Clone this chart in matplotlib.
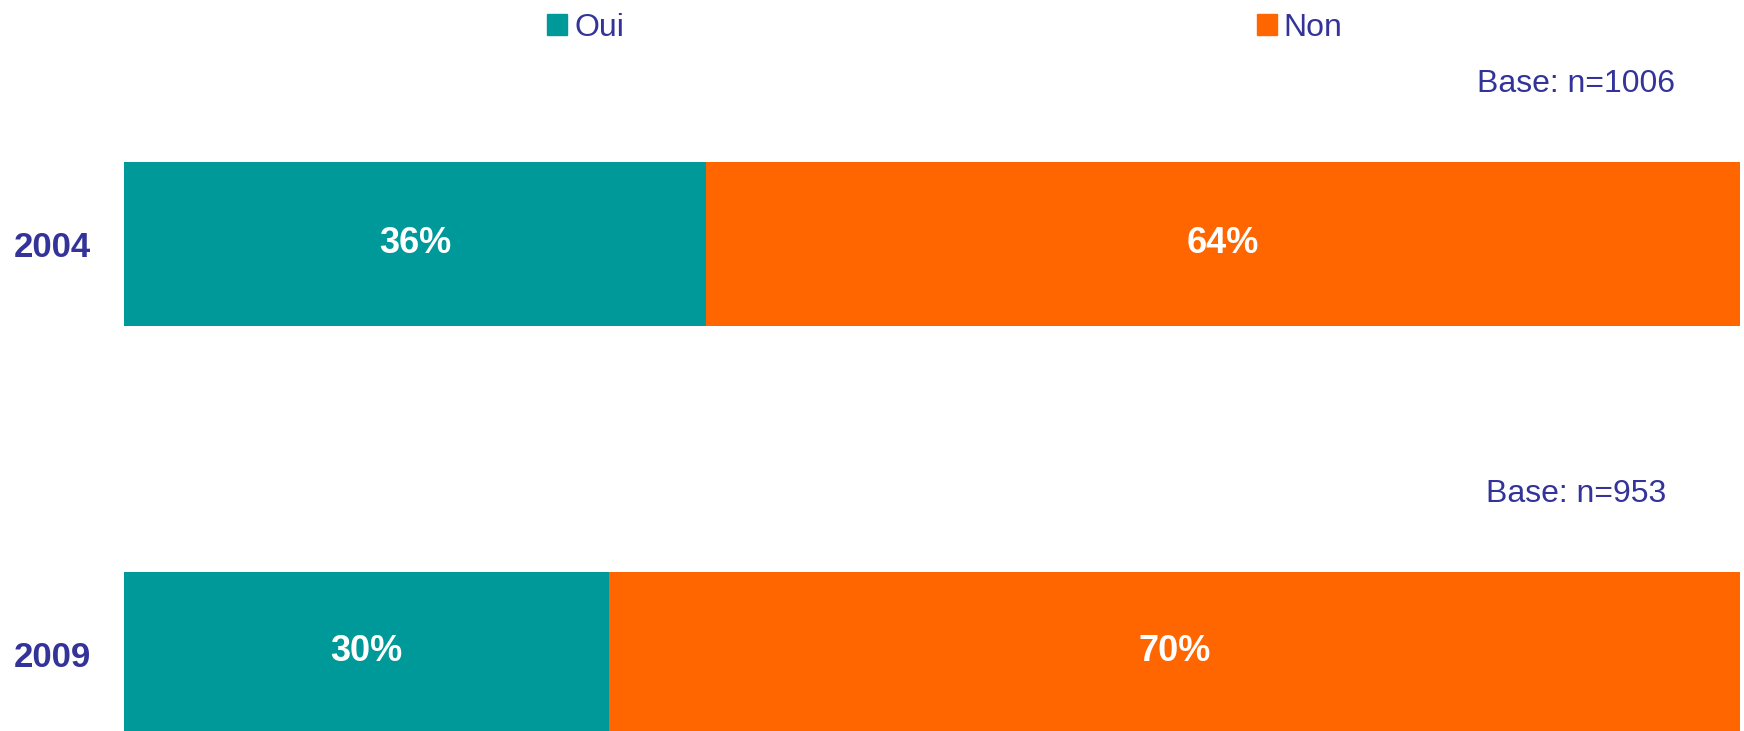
import matplotlib
matplotlib.use('Agg')
import matplotlib.pyplot as plt
from matplotlib.patches import Patch

plt.rcParams['font.family'] = ['Liberation Sans', 'DejaVu Sans']

# данные
annees = ['2004', '2009']
oui = [36, 30]
non = [64, 70]
bases = ['Base: n=1006', 'Base: n=953']

teal = '#009999'
orange = '#FF6600'
navy = '#333399'

fig = plt.figure(figsize=(17.44, 7.31), dpi=100)
ax = fig.add_axes([124 / 1744, 0, 1616 / 1744, 1])

pos = list(range(len(annees)))
b1 = ax.barh(pos, oui, height=0.4, color=teal)
b2 = ax.barh(pos, non, left=oui, height=0.4, color=orange)

# подписи процентов
ax.bar_label(b1, labels=[f'{v}%' for v in oui], label_type='center',
             color='white', fontsize=26, fontweight='bold')
ax.bar_label(b2, labels=[f'{v}%' for v in non], label_type='center',
             color='white', fontsize=26, fontweight='bold')

# базы
for p, txt in zip(pos, bases):
    ax.text(89.85, p - 0.39, txt, ha='center', va='center', color=navy, fontsize=23)

ax.set_xlim(0, 100)
ax.set_ylim(1.188, -0.595)
ax.set_yticks(pos)
ax.set_yticklabels(annees, fontsize=25, fontweight='bold', color=navy)
ax.tick_params(axis='y', length=0, pad=24)
ax.set_xticks([])
for s in ax.spines.values():
    s.set_visible(False)

# легенда
handles = [Patch(color=teal, label='Oui'), Patch(color=orange, label='Non')]
fig.legend(handles=handles, loc='upper left', bbox_to_anchor=(547 / 1744, 1 - 13 / 731),
           ncol=2, frameon=False, fontsize=23, labelcolor=navy,
           handlelength=0.63, handleheight=0.63, handletextpad=0.22,
           columnspacing=19.8, borderpad=0, borderaxespad=0)

fig.savefig('out.png', dpi=100)
